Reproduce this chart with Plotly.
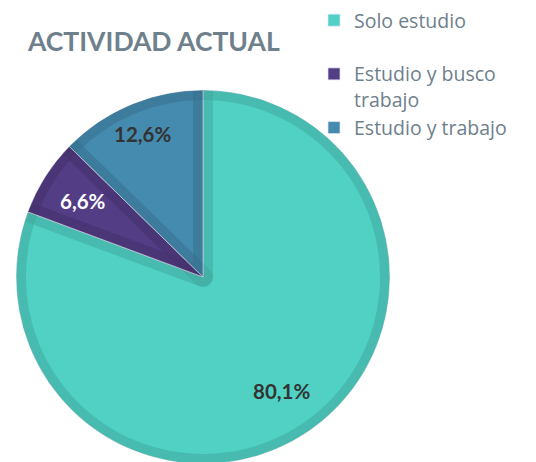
import math
import plotly.graph_objects as go

# ---- data ----
categories = ["Solo estudio<br> ", "Estudio y busco<br>trabajo", "Estudio y trabajo"]
values = [80.1, 6.6, 12.6]
value_labels = ["80,1%", "6,6%", "12,6%"]
fill_colors = ["#50D1C3", "#533D85", "#458BAF"]
label_colors = ["#333333", "#FFFFFF", "#333333"]
label_radius = [0.74, 0.76, 0.83]   # relative radial position of the % labels
title_text = "ACTIVIDAD ACTUAL"

# figure sits 8px inside the page (default body margin)
W, H = 528, 460
cx, cy, R = 195, 269, 187  # pie centre / radius in figure pixels (layout only)

dom_x = [(cx - R) / W, (cx + R) / W]
dom_y = [(H - cy - R) / H, (H - cy + R) / H]

fig = go.Figure()

fig.add_trace(go.Pie(
    labels=categories,
    values=values,
    textinfo="none",
    marker=dict(colors=fill_colors, line=dict(color="rgba(225,228,245,0.7)", width=1)),
    sort=False,
    direction="clockwise",
    rotation=0,
    domain=dict(x=dom_x, y=dom_y),
    hoverinfo="label+percent",
))

# inset darker borders (semi-transparent strokes over each slice)
fig.add_trace(go.Pie(
    labels=categories,
    values=values,
    textinfo="none",
    marker=dict(colors=["rgba(0,0,0,0)"] * len(values),
                line=dict(color="rgba(0,0,0,0.052)", width=20)),
    sort=False,
    direction="clockwise",
    rotation=0,
    domain=dict(x=dom_x, y=dom_y),
    showlegend=False,
    hoverinfo="skip",
))

def circ(r, color, width):
    return dict(type="circle", xref="paper", yref="paper",
                x0=(cx - r) / W, x1=(cx + r) / W,
                y0=(H - cy - r) / H, y1=(H - cy + r) / H,
                line=dict(color=color, width=width), fillcolor="rgba(0,0,0,0)",
                layer="above")

# percentage labels placed on each slice's bisector (derived from the values)
total = sum(values)
annotations = []
cum = 0.0
for v, txt, col, rf in zip(values, value_labels, label_colors, label_radius):
    ang = math.radians((cum + v / 2) / total * 360)
    cum += v
    px = cx + rf * R * math.sin(ang)
    py = cy - rf * R * math.cos(ang)
    annotations.append(dict(
        x=px / W, y=1 - py / H, xref="paper", yref="paper",
        text=f"<b>{txt}</b>", showarrow=False,
        font=dict(family="Lato", size=20.5, color=col),
        xanchor="center", yanchor="middle",
    ))

fig.update_layout(
    width=W, height=H,
    margin=dict(l=0, r=0, t=0, b=0, autoexpand=False),
    paper_bgcolor="white",
    plot_bgcolor="white",
    title=dict(text=f"<b>{title_text}</b>", x=20 / W, xanchor="left",
               y=1 - 34 / H, yanchor="middle", yref="container",
               font=dict(family="Lato", size=26.5, color="#6E808C")),
    legend=dict(x=306 / W, xanchor="left", y=1 + 7 / H, yanchor="top",
                valign="top",
                font=dict(family="Open Sans", size=19.5, color="#6E808C"),
                bgcolor="rgba(0,0,0,0)"),
    shapes=[circ(R + 6, "white", 12), circ(R - 5, "rgba(0,0,0,0.052)", 10)],
    annotations=annotations,
)

fig.write_html("out.html")
